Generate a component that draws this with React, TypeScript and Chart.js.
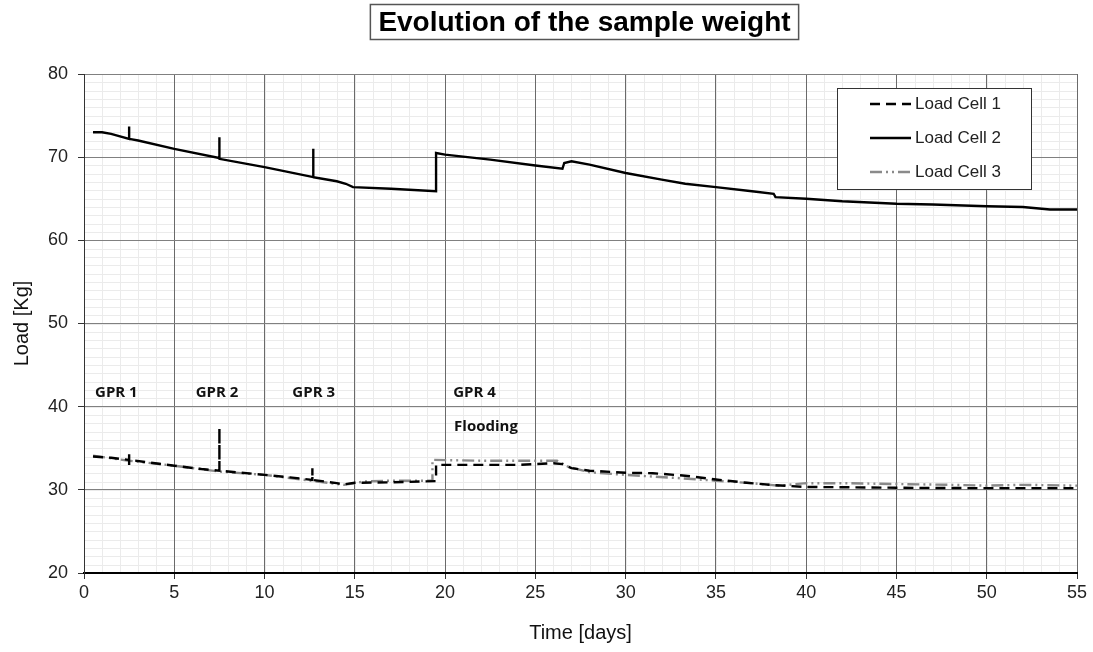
import React, { useEffect, useRef } from 'react';
import { Chart, registerables } from 'chart.js';

Chart.register(...registerables);

const chartTitle = 'Evolution of the sample weight';
const xAxisTitle = 'Time [days]';
const yAxisTitle = 'Load [Kg]';

const seriesLabels = ['Load Cell 1', 'Load Cell 2', 'Load Cell 3'];

const cell1Days = [0.5, 1.5, 2.5, 2.5, 2.5, 2.5, 5.0, 6.5, 7.5, 7.5, 7.5, 10.0, 11.4, 12.65, 12.65, 12.65, 14.0, 14.4, 15.0, 17.0, 19.5, 19.5, 22.0, 24.0, 26.0, 26.5, 27.0, 28.0, 30.0, 31.5, 33.3, 35.0, 36.7, 38.0, 39.1, 40.0, 45.0, 50.0, 55.0];
const cell1Load = [34.0, 33.85, 33.6, 34.3, 33.0, 33.6, 32.9, 32.5, 32.3, 37.4, 32.3, 31.8, 31.5, 31.2, 32.6, 31.2, 30.8, 30.65, 30.85, 30.9, 31.05, 33.0, 33.0, 33.0, 33.2, 33.1, 32.6, 32.3, 32.05, 32.0, 31.7, 31.25, 30.85, 30.6, 30.45, 30.35, 30.25, 30.2, 30.2];

const cell2Days = [0.5, 1.0, 1.5, 2.5, 2.5, 2.5, 3.0, 5.0, 7.5, 7.5, 7.5, 10.0, 12.7, 12.7, 12.7, 14.0, 14.5, 14.9, 17.0, 19.5, 19.5, 20.0, 22.5, 25.0, 26.5, 26.6, 27.0, 28.0, 30.0, 32.0, 33.3, 35.0, 37.0, 38.2, 38.3, 40.0, 42.0, 45.0, 47.0, 50.0, 52.0, 53.5, 55.0];
const cell2Load = [73.0, 73.0, 72.8, 72.2, 73.7, 72.2, 72.0, 71.0, 69.9, 72.4, 69.8, 68.8, 67.6, 71.0, 67.6, 67.1, 66.8, 66.4, 66.2, 65.9, 70.5, 70.3, 69.7, 69.0, 68.6, 69.3, 69.5, 69.1, 68.1, 67.3, 66.8, 66.4, 65.9, 65.6, 65.2, 65.0, 64.7, 64.4, 64.3, 64.1, 64.0, 63.7, 63.7];

const cell3Days = [0.5, 2.5, 5.0, 7.5, 10.0, 12.6, 14.4, 15.5, 17.0, 19.3, 19.3, 22.0, 25.0, 26.2, 26.8, 28.0, 30.0, 31.5, 33.0, 35.0, 37.0, 38.5, 40.0, 42.0, 45.0, 48.0, 50.0, 52.0, 55.0];
const cell3Load = [34.1, 33.5, 32.9, 32.2, 31.8, 31.1, 30.6, 31.0, 31.1, 31.1, 33.6, 33.5, 33.5, 33.5, 32.8, 32.1, 31.8, 31.6, 31.4, 31.1, 30.8, 30.5, 30.8, 30.8, 30.7, 30.6, 30.5, 30.6, 30.5];

const annotationText = ['GPR 1', 'GPR 2', 'GPR 3', 'GPR 4', 'Flooding'];
const annotationDays = [0.61, 6.19, 11.54, 20.45, 20.5];
const annotationLoads = [41.15, 41.15, 41.15, 41.15, 37.1];

const xMin = 0, xMax = 55, xMajor = 5, xMinor = 1;
const yMin = 20, yMax = 80, yMajor = 10, yMinor = 1;

const toPoints = (d: number[], v: number[]) => d.map((x, i) => ({ x, y: v[i] }));

const minorGridPlugin = {
  id: 'minorGrid',
  beforeDraw(chart: any) {
    const { ctx, chartArea, scales } = chart;
    ctx.save();
    ctx.strokeStyle = '#ebebeb';
    ctx.lineWidth = 1;
    ctx.beginPath();
    for (let v = xMin; v <= xMax; v += xMinor) {
      const x = Math.round(scales.x.getPixelForValue(v)) + 0.5;
      ctx.moveTo(x, chartArea.top);
      ctx.lineTo(x, chartArea.bottom);
    }
    for (let v = yMin; v <= yMax; v += yMinor) {
      const y = Math.round(scales.y.getPixelForValue(v)) + 0.5;
      ctx.moveTo(chartArea.left, y);
      ctx.lineTo(chartArea.right, y);
    }
    ctx.stroke();
    ctx.restore();
  },
};

const titlePlugin = {
  id: 'boxedTitle',
  afterDraw(chart: any) {
    const { ctx, chartArea } = chart;
    ctx.save();
    ctx.font = 'bold 28px "Liberation Sans", Arial, sans-serif';
    const w = ctx.measureText(chartTitle).width;
    const cx = (chartArea.left + chartArea.right) / 2 + 4;
    const cy = 22;
    ctx.fillStyle = '#ffffff';
    ctx.fillRect(cx - w / 2 - 8, 4, w + 16, 36);
    ctx.strokeStyle = '#555555';
    ctx.lineWidth = 1.5;
    ctx.strokeRect(cx - w / 2 - 8, 4.5, w + 16, 35);
    ctx.fillStyle = '#000000';
    ctx.textAlign = 'center';
    ctx.textBaseline = 'middle';
    ctx.fillText(chartTitle, cx, cy + 1);
    ctx.restore();
  },
};

const annotationPlugin = {
  id: 'gprLabels',
  afterDatasetsDraw(chart: any) {
    const { ctx, scales } = chart;
    ctx.save();
    ctx.font = 'bold 15px "Open Sans", "Noto Sans", sans-serif';
    ctx.fillStyle = '#111111';
    ctx.textAlign = 'left';
    ctx.textBaseline = 'alphabetic';
    annotationText.forEach((t, i) => {
      ctx.fillText(t, scales.x.getPixelForValue(annotationDays[i]), scales.y.getPixelForValue(annotationLoads[i]));
    });
    ctx.restore();
  },
};

const legendPlugin = {
  id: 'boxLegend',
  afterDraw(chart: any) {
    const { ctx, chartArea } = chart;
    const left = chartArea.right - 240;
    const top = chartArea.top + 14;
    const w = 194, h = 101;
    ctx.save();
    ctx.fillStyle = '#ffffff';
    ctx.fillRect(left, top, w, h);
    ctx.strokeStyle = '#333333';
    ctx.lineWidth = 1;
    ctx.strokeRect(left + 0.5, top + 0.5, w, h);
    ctx.font = '17px "Liberation Sans", Arial, sans-serif';
    ctx.textBaseline = 'middle';
    chart.data.datasets.forEach((ds: any, i: number) => {
      const y = top + 16 + i * 34;
      ctx.strokeStyle = ds.borderColor;
      ctx.lineWidth = ds.borderWidth;
      ctx.setLineDash(ds.borderDash || []);
      ctx.beginPath();
      ctx.moveTo(left + 33, y);
      ctx.lineTo(left + 74, y);
      ctx.stroke();
      ctx.setLineDash([]);
      ctx.fillStyle = '#222222';
      ctx.fillText(ds.label, left + 78, y);
    });
    ctx.restore();
  },
};

export default function App() {
  const ref = useRef<HTMLCanvasElement>(null);

  useEffect(() => {
    document.body.style.margin = '0';
    const chart = new Chart(ref.current as HTMLCanvasElement, {
      type: 'line',
      data: {
        datasets: [
          {
            label: seriesLabels[0],
            data: toPoints(cell1Days, cell1Load),
            borderColor: '#000000',
            borderWidth: 2.4,
            borderDash: [10, 6],
            pointRadius: 0,
            tension: 0,
            order: 0,
          },
          {
            label: seriesLabels[1],
            data: toPoints(cell2Days, cell2Load),
            borderColor: '#000000',
            borderWidth: 2.4,
            borderDash: [],
            pointRadius: 0,
            tension: 0,
            order: 1,
          },
          {
            label: seriesLabels[2],
            data: toPoints(cell3Days, cell3Load),
            borderColor: '#8a8a8a',
            borderWidth: 2.4,
            borderDash: [12, 4, 2, 4, 2, 4],
            pointRadius: 0,
            tension: 0,
            order: 2,
          },
        ],
      },
      options: {
        animation: false,
        responsive: true,
        maintainAspectRatio: false,
        layout: { padding: { top: 74, right: 16, left: 0, bottom: 0 } },
        plugins: {
          legend: { display: false },
          tooltip: { enabled: false },
          title: { display: false },
        },
        scales: {
          x: {
            type: 'linear',
            min: xMin,
            max: xMax,
            afterFit: (s: any) => { s.height = 79; },
            ticks: {
              stepSize: xMajor,
              autoSkip: false,
              maxRotation: 0,
              padding: 3,
              color: '#222222',
              font: { size: 18, family: '"Liberation Sans", Arial, sans-serif' },
            },
            grid: {
              color: '#6a6a6a',
              tickColor: '#333333',
              tickLength: 6,
              lineWidth: 1,
            },
            border: { color: '#000000', width: 2 },
            title: {
              display: true,
              text: xAxisTitle,
              color: '#111111',
              font: { size: 20, family: '"Liberation Sans", Arial, sans-serif' },
              padding: { top: 0, bottom: 7 },
            },
          },
          y: {
            type: 'linear',
            min: yMin,
            max: yMax,
            afterFit: (s: any) => { s.width = 84; },
            ticks: {
              stepSize: yMajor,
              autoSkip: false,
              padding: 10,
              color: '#222222',
              font: { size: 18, family: '"Liberation Sans", Arial, sans-serif' },
            },
            grid: {
              color: '#808080',
              tickColor: '#333333',
              tickLength: 6,
              lineWidth: 1,
            },
            border: { color: '#333333', width: 1 },
            title: {
              display: true,
              text: yAxisTitle,
              color: '#111111',
              font: { size: 20, family: '"Liberation Sans", Arial, sans-serif' },
              padding: { top: 10, bottom: 0 },
            },
          },
        },
      },
      plugins: [minorGridPlugin, annotationPlugin, legendPlugin, titlePlugin],
    } as any);
    return () => chart.destroy();
  }, []);

  return (
    <div style={{ width: 1093, height: 652, position: 'relative' }}>
      <canvas ref={ref} />
    </div>
  );
}
